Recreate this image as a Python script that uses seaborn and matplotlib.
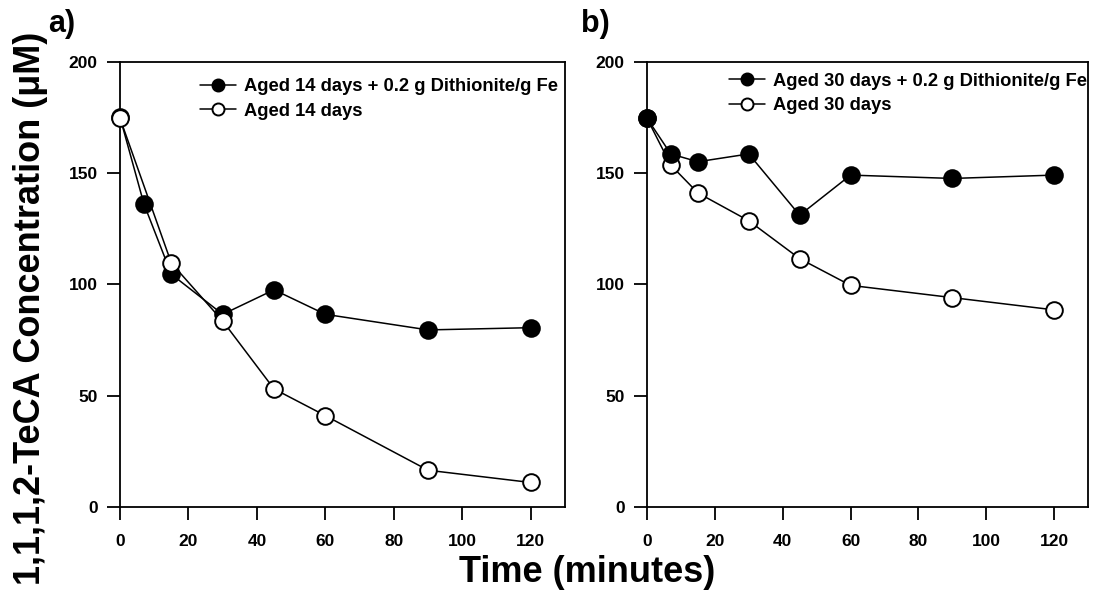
import matplotlib
matplotlib.use("Agg")
import matplotlib.pyplot as plt
import seaborn as sns
import pandas as pd

# Panel a: soil aged 14 days
time_a_dith = [0, 7, 15, 30, 45, 60, 90, 120]
conc_a_dith = [175, 136, 104.5, 86.5, 97.5, 86.5, 79.5, 80.5]
time_a = [0, 15, 30, 45, 60, 90, 120]
conc_a = [174.5, 109.5, 83.5, 53, 41, 16.5, 11]

# Panel b: soil aged 30 days
time_b = [0, 7, 15, 30, 45, 60, 90, 120]
conc_b_dith = [174.5, 158.5, 155, 158.5, 131, 149, 147.5, 149]
conc_b = [174.5, 153.5, 141, 128.5, 111.5, 99.5, 94, 88.5]

labels_a = ["Aged 14 days + 0.2 g Dithionite/g Fe", "Aged 14 days"]
labels_b = ["Aged 30 days + 0.2 g Dithionite/g Fe", "Aged 30 days"]
x_ticks = [0, 20, 40, 60, 80, 100, 120]
y_ticks = [0, 50, 100, 150, 200]

sns.set_style("ticks")
plt.rcParams["font.family"] = ["Liberation Sans", "DejaVu Sans"]
plt.rcParams["font.weight"] = "bold"
for key in ("text.color", "axes.labelcolor", "xtick.color", "ytick.color",
            "axes.edgecolor"):
    plt.rcParams[key] = "black"

fig = plt.figure(figsize=(10.93, 5.99), dpi=100)
ax_a = fig.add_axes([120 / 1093, 92 / 599, 445 / 1093, 445.5 / 599])
ax_b = fig.add_axes([647 / 1093, 92 / 599, 441 / 1093, 445.5 / 599])

MS = 12
LW = 1.1


def draw(ax, t, c, filled, label, z):
    df = pd.DataFrame({"t": t, "c": c})
    sns.lineplot(data=df, x="t", y="c", ax=ax, sort=False, color="black",
                 linewidth=LW, marker="o", markersize=MS,
                 markerfacecolor="black" if filled else "white",
                 markeredgecolor="black", markeredgewidth=1.4,
                 label=label, zorder=z, clip_on=False)


# panel a: open circles drawn over filled ones
draw(ax_a, time_a_dith, conc_a_dith, True, labels_a[0], 3)
draw(ax_a, time_a, conc_a, False, labels_a[1], 4)
# panel b: filled circles drawn over open ones
draw(ax_b, time_b, conc_b, False, labels_b[1], 3)
draw(ax_b, time_b, conc_b_dith, True, labels_b[0], 4)

for ax, labels, anchor in ((ax_a, labels_a, (0.18, 0.963)),
                           (ax_b, labels_b, (0.186, 0.975))):
    ax.set_xlim(0, 130)
    ax.set_ylim(0, 200)
    ax.set_xticks(x_ticks)
    ax.set_yticks(y_ticks)
    ax.set_xlabel("")
    ax.set_ylabel("")
    for s in ax.spines.values():
        s.set_linewidth(1.3)
        s.set_visible(True)
        s.set_color("black")
    ax.tick_params(direction="out", length=9.5, width=1.3,
                   labelsize=12.5, pad=6.5, colors="black")
    ax.tick_params(axis="x", pad=10)
    for lab in ax.get_xticklabels() + ax.get_yticklabels():
        lab.set_fontweight("bold")
    handles, labs = ax.get_legend_handles_labels()
    order = [labs.index(l) for l in labels]
    ax.legend([handles[i] for i in order], [labs[i] for i in order],
              loc="upper left", bbox_to_anchor=anchor, frameon=False,
              prop={"weight": "bold", "size": 13.2}, markerscale=0.72,
              handlelength=1.95, handletextpad=0.45, labelspacing=0.42,
              borderpad=0, borderaxespad=0)

fig.text(31 / 1093, 1 - 308 / 599, "1,1,1,2-TeCA Concentration (\u03bcM)",
         rotation=90, ha="center", va="center", fontsize=26,
         fontweight="bold")
fig.text(587 / 1093, 1 - 572 / 599, "Time (minutes)", ha="center",
         va="center", fontsize=26, fontweight="bold")
fig.text(48 / 1093, 1 - 24 / 599, "a)", ha="left", va="center",
         fontsize=22, fontweight="bold")
fig.text(581 / 1093, 1 - 24 / 599, "b)", ha="left", va="center",
         fontsize=22, fontweight="bold")

fig.savefig("out.png", dpi=100)
